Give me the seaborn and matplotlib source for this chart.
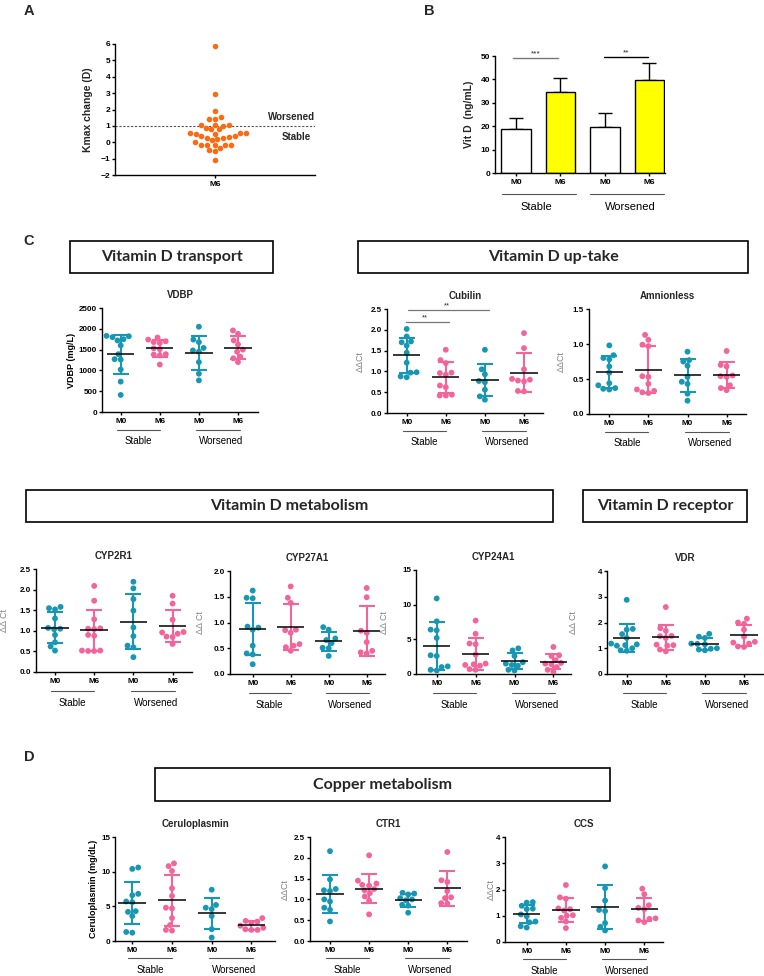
import numpy as np
import pandas as pd
import matplotlib
matplotlib.use("Agg")
import matplotlib.pyplot as plt
import seaborn as sns
from matplotlib.patches import Rectangle

W, H = 764, 976

# ---------------- data ----------------
kmax_change = [5.88, 2.92, 1.93, 1.54, 1.44, 1.44, 1.06, 1.05, 1.03, 0.99, 0.89, 0.79, 0.79,
               0.56, 0.55, 0.54, 0.53, 0.52, 0.39, 0.36, 0.32, 0.28, 0.26, 0.20, 0.12, 0.0,
               -0.14, -0.14, -0.15, -0.15, -0.16, -0.35, -0.45, -0.51, -1.07]

group_keys = ["S_M0", "S_M6", "W_M0", "W_M6"]
tick_labels = ["M0", "M6", "M0", "M6"]
group_names = ["Stable", "Worsened"]

vitd_mean = [18.8, 34.5, 19.5, 39.7]
vitd_sd = [4.9, 6.1, 6.1, 7.4]

vdbp = [[1830, 1820, 1800, 1750, 1720, 1600, 1390, 1270, 1260, 1020, 730, 410],
        [1790, 1740, 1700, 1680, 1660, 1530, 1510, 1390, 1380, 1360, 1140],
        [2050, 1740, 1680, 1540, 1480, 1450, 1200, 920, 760],
        [1960, 1880, 1720, 1620, 1500, 1450, 1330, 1290, 1200]]
cubilin = [[2.02, 1.84, 1.72, 1.70, 1.62, 1.45, 1.21, 0.98, 0.97, 0.88, 0.86],
           [1.52, 1.27, 1.20, 0.97, 0.96, 0.92, 0.66, 0.62, 0.44, 0.42, 0.42],
           [1.52, 1.05, 0.93, 0.77, 0.74, 0.56, 0.40, 0.32],
           [1.92, 1.56, 1.05, 0.82, 0.80, 0.78, 0.76, 0.53, 0.52]]
amnionless = [[0.98, 0.84, 0.80, 0.78, 0.68, 0.59, 0.44, 0.41, 0.37, 0.36, 0.35],
              [1.13, 1.06, 0.99, 0.97, 0.54, 0.53, 0.43, 0.35, 0.33, 0.31, 0.30],
              [0.89, 0.77, 0.75, 0.69, 0.53, 0.46, 0.43, 0.29, 0.19],
              [0.90, 0.70, 0.68, 0.55, 0.54, 0.53, 0.41, 0.37, 0.34]]
cyp2r1 = [[1.58, 1.55, 1.52, 1.30, 1.07, 1.05, 1.04, 0.90, 0.72, 0.62, 0.52],
          [2.09, 1.73, 1.28, 1.06, 1.05, 1.04, 0.90, 0.88, 0.52, 0.52, 0.51, 0.51],
          [2.19, 2.03, 1.77, 1.49, 1.08, 0.87, 0.64, 0.60, 0.36],
          [1.85, 1.66, 1.27, 0.97, 0.96, 0.93, 0.86, 0.85, 0.68]]
cyp27a1 = [[1.62, 1.48, 1.47, 0.92, 0.90, 0.86, 0.55, 0.40, 0.38, 0.19],
           [1.70, 1.48, 1.38, 0.86, 0.85, 0.80, 0.58, 0.55, 0.52, 0.45],
           [0.91, 0.86, 0.69, 0.66, 0.60, 0.51, 0.50, 0.35],
           [1.67, 1.49, 0.84, 0.80, 0.62, 0.45, 0.42, 0.40]]
cyp24a1 = [[10.9, 7.6, 6.4, 6.3, 5.2, 2.7, 2.6, 1.1, 1.0, 0.6, 0.5],
           [7.7, 5.8, 4.4, 4.3, 2.8, 1.5, 1.4, 1.3, 1.2, 0.7, 0.6],
           [3.7, 3.4, 2.6, 1.7, 1.5, 1.3, 1.2, 0.6, 0.5],
           [3.9, 2.7, 2.6, 2.0, 1.6, 1.5, 1.4, 1.0, 0.6, 0.3]]
vdr = [[2.88, 1.75, 1.72, 1.55, 1.40, 1.18, 1.15, 1.12, 1.10, 1.00, 0.92, 0.90],
       [2.60, 1.78, 1.68, 1.48, 1.47, 1.40, 1.14, 1.12, 1.10, 0.95, 0.88],
       [1.56, 1.45, 1.40, 1.18, 1.17, 1.15, 1.00, 0.98, 0.95, 0.92],
       [2.15, 2.00, 1.95, 1.72, 1.45, 1.25, 1.22, 1.18, 1.07, 1.05]]
ceruloplasmin = [[10.6, 10.4, 6.8, 6.6, 5.7, 5.6, 4.3, 4.2, 3.6, 1.3, 1.2],
                 [11.2, 10.8, 10.1, 7.6, 6.5, 4.8, 4.7, 3.3, 2.3, 1.6, 1.5],
                 [7.4, 5.2, 4.8, 4.6, 3.6, 1.7, 0.5],
                 [3.3, 2.9, 2.8, 2.6, 2.2, 1.9, 1.7, 1.6, 1.6]]
ctr1 = [[2.16, 1.48, 1.25, 1.22, 1.20, 1.00, 0.95, 0.80, 0.75, 0.47],
        [2.06, 1.45, 1.38, 1.35, 1.33, 1.25, 1.22, 1.15, 1.07, 0.97, 0.64],
        [1.16, 1.14, 1.12, 1.03, 1.00, 0.98, 0.87, 0.85, 0.68],
        [2.14, 1.46, 1.42, 1.20, 1.05, 1.03, 0.91, 0.90]]
ccs = [[1.52, 1.50, 1.38, 1.27, 1.25, 1.05, 0.98, 0.78, 0.75, 0.60, 0.55],
       [2.17, 1.70, 1.65, 1.28, 1.25, 1.20, 1.02, 1.00, 0.92, 0.78, 0.53],
       [2.88, 2.05, 1.58, 1.22, 1.18, 0.72, 0.58, 0.44],
       [2.03, 1.82, 1.40, 1.30, 1.25, 0.90, 0.88, 0.82, 0.76]]

# ---------------- style ----------------
TEAL = "#1797B3"
PINK = "#F2649A"
ORANGE = "#FF6A10"
pal = dict(zip(group_keys, [TEAL, PINK, TEAL, PINK]))

sns.set_theme(style="ticks")
plt.rcParams["font.family"] = ["Liberation Sans", "DejaVu Sans"]
plt.rcParams["axes.linewidth"] = 1.0
plt.rcParams["xtick.major.width"] = 1.0
plt.rcParams["ytick.major.width"] = 1.0
plt.rcParams["xtick.major.size"] = 2.5
plt.rcParams["ytick.major.size"] = 2.5
plt.rcParams["xtick.major.pad"] = 1.5
plt.rcParams["ytick.major.pad"] = 1.0

fig = plt.figure(figsize=(W / 100, H / 100), dpi=100)
fig.patch.set_facecolor("white")


def add_ax(l, t, r, b):
    return fig.add_axes([l / W, 1 - b / H, (r - l) / W, (b - t) / H])


def style_ax(ax, fs=5.8):
    sns.despine(ax=ax)
    for s in ["left", "bottom"]:
        ax.spines[s].set_color("black")
    ax.tick_params(colors="black", labelsize=fs)
    for lab in ax.get_xticklabels() + ax.get_yticklabels():
        lab.set_fontweight("bold")


def group_annot(ax, axh, line_off, text_off, spans, centers, fs=7):
    tr = ax.get_xaxis_transform()
    for (x0, x1), cx, name in zip(spans, centers, group_names):
        ax.plot([x0, x1], [-line_off / axh] * 2, transform=tr, color="#555555",
                lw=0.8, clip_on=False)
        ax.text(cx, -text_off / axh, name, transform=tr, ha="center", va="center",
                fontsize=fs, color="black")


def fig_text(x, y, s, **kw):
    fig.text(x / W, 1 - y / H, s, **kw)


def box(l, t, r, b, s):
    fig.add_artist(Rectangle((l / W, 1 - b / H), (r - l) / W, (b - t) / H,
                             transform=fig.transFigure, fill=False, ec="black", lw=1.2))
    fig_text((l + r) / 2, (t + b) / 2, s, ha="center", va="center",
             fontsize=11.5, fontweight="bold", family=["Lato", "DejaVu Sans"])


def scatter_panel(l, t, r, b, c0, s, data, title, yticks, ylabel, label_right,
                  bold_label, fmt, line_off=18, text_off=29):
    ax = add_ax(l, t, r, b)
    df = pd.DataFrame({"grp": [k for k, vals in zip(group_keys, data) for _ in vals],
                       "val": [v for vals in data for v in vals]})
    sns.swarmplot(data=df, x="grp", y="val", hue="grp", order=group_keys,
                  hue_order=group_keys, palette=pal, size=4.2, legend=False, ax=ax,
                  linewidth=0, zorder=3)
    for i, vals in enumerate(data):
        m = np.mean(vals)
        sd = np.std(vals, ddof=1)
        ax.errorbar(i, m, yerr=sd, fmt="none", ecolor=pal[group_keys[i]], elinewidth=1.5,
                    capsize=5.5, capthick=1.5, zorder=4)
        ax.hlines(m, i - 0.35, i + 0.35, color="black", lw=1.1, zorder=5)
    ax.set_xlim((l - c0) / s, (r - c0) / s)
    ax.set_ylim(yticks[0], yticks[-1])
    ax.set_yticks(yticks)
    ax.set_yticklabels([fmt.format(v) for v in yticks])
    ax.set_xticks(range(4))
    ax.set_xticklabels(tick_labels)
    ax.set_xlabel("")
    if bold_label:
        ax.set_ylabel(ylabel, fontsize=6.5, fontweight="bold", color="black")
    else:
        ax.set_ylabel(ylabel, fontsize=6.5, color="#808080")
    ax.yaxis.set_label_coords((label_right - l) / (r - l), 0.5)
    ax.set_title(title, fontsize=7, fontweight="bold", pad=7)
    style_ax(ax)
    group_annot(ax, b - t, line_off, text_off, [(-0.1, 1.0), (1.93, 3.05)], [0.45, 2.57])
    return ax


# ---------------- Panel A ----------------
axA = add_ax(115, 44, 315, 175)
dfA = pd.DataFrame({"t": ["M6"] * len(kmax_change), "v": kmax_change})
sns.swarmplot(data=dfA, x="t", y="v", color=ORANGE, size=4.0, ax=axA, linewidth=0)
axA.axhline(1, ls=(0, (2, 1.5)), color="#555555", lw=0.8)
axA.set_xlim(-0.5, 0.5)
axA.set_ylim(-2, 6)
axA.set_yticks(range(-2, 7))
axA.set_xlabel("")
axA.set_ylabel("Kmax change (D)", fontsize=7.5, fontweight="bold")
axA.yaxis.set_label_coords((93 - 115) / 200, 0.5)
axA.text(0.5, 1.56, "Worsened", ha="right", va="center", fontsize=7, fontweight="bold")
axA.text(0.48, 0.34, "Stable", ha="right", va="center", fontsize=7, fontweight="bold")
style_ax(axA, fs=6)

# ---------------- Panel B ----------------
axB = add_ax(495, 56, 665, 173)
dfB = pd.DataFrame({"grp": group_keys, "v": vitd_mean})
sns.barplot(data=dfB, x="grp", y="v", hue="grp", order=group_keys, hue_order=group_keys,
            palette=dict(zip(group_keys, ["white", "#FFFF00", "white", "#FFFF00"])),
            saturation=1, width=0.67, edgecolor="black", linewidth=1.0, legend=False,
            ax=axB, errorbar=None, zorder=2)
axB.errorbar(range(4), vitd_mean, yerr=[[0] * 4, vitd_sd], fmt="none", ecolor="black",
             elinewidth=1.0, capsize=5, capthick=1.0, zorder=1)
axB.set_xlim(-0.47, 3.35)
axB.set_ylim(0, 50)
axB.set_yticks(range(0, 51, 10))
axB.set_xticks(range(4))
axB.set_xticklabels(tick_labels)
axB.set_xlabel("")
axB.set_ylabel("Vit D  (ng/mL)", fontsize=7.5, fontweight="bold")
axB.yaxis.set_label_coords((474 - 495) / 170, 0.5)
axB.plot([-0.07, 0.94], [49.2, 49.2], color="#777777", lw=1.0, clip_on=False)
axB.text(0.44, 49.6, "***", ha="center", va="bottom", fontsize=6)
axB.plot([1.98, 2.97], [49.5, 49.5], color="black", lw=1.0, clip_on=False)
axB.text(2.47, 49.9, "**", ha="center", va="bottom", fontsize=6)
style_ax(axB, fs=6)
group_annot(axB, 117, 21, 34, [(-0.31, 1.35), (1.66, 3.33)], [0.47, 2.56], fs=8)

# ---------------- Panel C ----------------
scatter_panel(102, 308, 258, 412, 120.7, 39.1, vdbp, "VDBP",
              list(range(0, 2501, 500)), "VDBP (mg/L)", 76, True, "{:.0f}")
axCub = scatter_panel(387, 309, 543, 413, 406.7, 39.1, cubilin, "Cubilin",
                      [0, 0.5, 1.0, 1.5, 2.0, 2.5], "ΔΔCt", 365, False, "{:.1f}")
axCub.plot([0.03, 2.11], [2.48, 2.48], color="#777777", lw=0.9, clip_on=False)
axCub.text(1.03, 2.5, "**", ha="center", va="bottom", fontsize=5.5)
axCub.plot([-0.02, 1.08], [2.18, 2.18], color="#777777", lw=0.9, clip_on=False)
axCub.text(0.47, 2.2, "**", ha="center", va="bottom", fontsize=5.5)
scatter_panel(589, 309, 746, 414, 609.3, 39.1, amnionless, "Amnionless",
              [0, 0.5, 1.0, 1.5], "ΔΔCt", 566, False, "{:.1f}")

scatter_panel(36, 569, 192, 672, 55, 39.2, cyp2r1, "CYP2R1",
              [0, 0.5, 1.0, 1.5, 2.0, 2.5], "ΔΔ Ct", 9, False, "{:.1f}",
              line_off=19, text_off=31)
scatter_panel(230, 571, 385, 674, 252.7, 38.0, cyp27a1, "CYP27A1",
              [0, 0.5, 1.0, 1.5, 2.0], "ΔΔ Ct", 205, False, "{:.1f}",
              line_off=19, text_off=31)
scatter_panel(416, 570, 571, 674, 436.7, 38.9, cyp24a1, "CYP24A1",
              [0, 5, 10, 15], "ΔΔ Ct", 389, False, "{:.0f}",
              line_off=19, text_off=31)
scatter_panel(607, 571, 763, 674, 626.7, 39.1, vdr, "VDR",
              [0, 1, 2, 3, 4], "ΔΔ Ct", 578, False, "{:.0f}",
              line_off=19, text_off=31)

# ---------------- Panel D ----------------
scatter_panel(115, 837, 275, 941, 132.3, 39.7, ceruloplasmin, "Ceruloplasmin",
              [0, 5, 10, 15], "Ceruloplasmin (mg/dL)", 98, True, "{:.0f}",
              line_off=17, text_off=29)
scatter_panel(310, 837, 467, 941, 330, 39.1, ctr1, "CTR1",
              [0, 0.5, 1.0, 1.5, 2.0, 2.5], "ΔΔCt", 290, False, "{:.1f}",
              line_off=17, text_off=29)
scatter_panel(505, 837, 663, 942, 526.7, 39.2, ccs, "CCS",
              [0, 1, 2, 3, 4], "ΔΔCt", 496, False, "{:.0f}",
              line_off=17, text_off=29)

# ---------------- boxes & letters ----------------
box(70, 241, 273, 273, "Vitamin D transport")
box(358, 241, 748, 273, "Vitamin D up-take")
box(26, 490, 553, 522, "Vitamin D metabolism")
box(583, 490, 747, 522, "Vitamin D receptor")
box(155, 768, 610, 801, "Copper metabolism")

for x, y, s in [(29, 11, "A"), (429, 11, "B"), (29, 241, "C"), (29, 757, "D")]:
    fig_text(x, y, s, ha="center", va="center", fontsize=10.5, fontweight="bold")

fig.savefig("out.png", dpi=100, facecolor="white")
